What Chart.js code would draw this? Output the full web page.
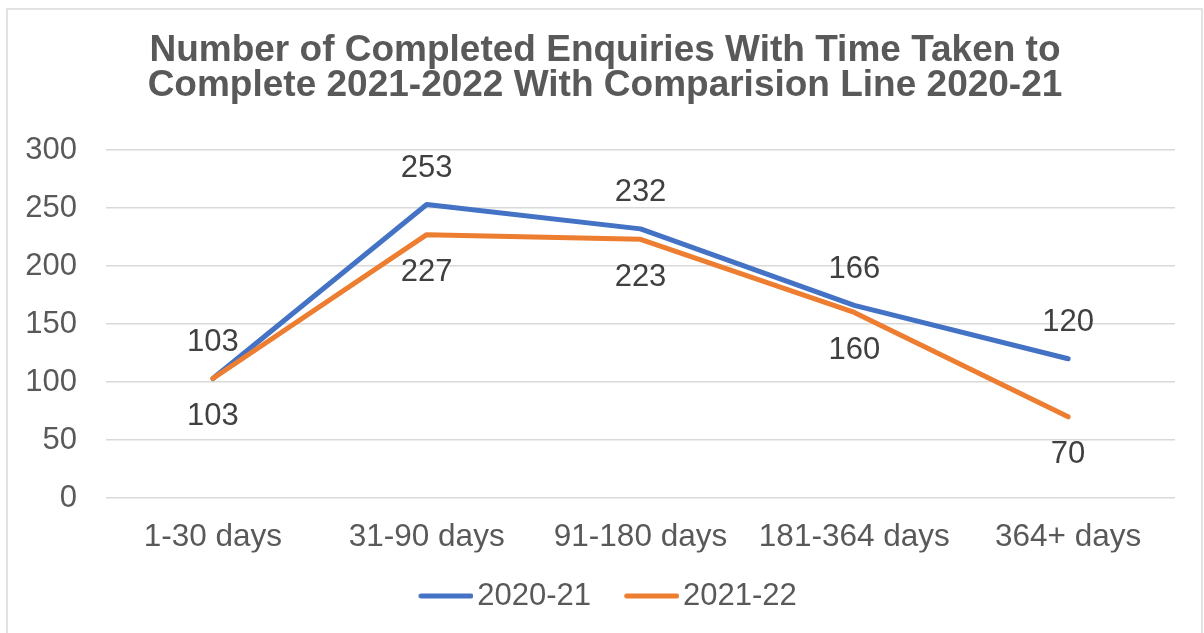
<!DOCTYPE html>
<html>
<head>
<meta charset="utf-8">
<script src="https://cdn.jsdelivr.net/npm/chart.js@4.4.1/dist/chart.umd.min.js"></script>
<style>
  html, body { margin: 0; padding: 0; background: #ffffff; }
  #wrap { position: relative; width: 1204px; height: 633px; }
</style>
</head>
<body>
<div id="wrap"><canvas id="c" width="1204" height="633"></canvas></div>
<script>
// ---- data ----
const categories = ['1-30 days', '31-90 days', '91-180 days', '181-364 days', '364+ days'];
const series2020 = [103, 253, 232, 166, 120];
const series2021 = [103, 227, 223, 160, 70];
const seriesNames = ['2020-21', '2021-22'];
const yTicks = [0, 50, 100, 150, 200, 250, 300];
const titleLines = ['Number of Completed Enquiries With Time Taken to', 'Complete 2021-2022 With Comparision Line 2020-21'];

const BLUE = '#4472C4';
const ORANGE = '#ED7D31';
const FONT = '"Liberation Sans", Arial, sans-serif';

// legend line images
const PSW = 48.5;
function legendLine(color) {
  const W = Math.round(PSW + 23);
  const cv = document.createElement('canvas');
  cv.width = W; cv.height = 10;
  const g = cv.getContext('2d');
  g.strokeStyle = color; g.lineWidth = 5; g.lineCap = 'round';
  g.beginPath(); g.moveTo(W - 55 + 2.5, 5); g.lineTo(W - 2.5, 5); g.stroke();
  return cv;
}
const legendImgs = [legendLine(BLUE), legendLine(ORANGE)];

const borderPlugin = {
  id: 'outerBorder',
  beforeDraw(chart) {
    const ctx = chart.ctx;
    ctx.save();
    ctx.fillStyle = '#ffffff';
    ctx.fillRect(0, 0, chart.width, chart.height);
    ctx.strokeStyle = '#d9d9d9';
    ctx.lineWidth = 1.5;
    ctx.strokeRect(7, 9, 1195, 700);
    ctx.restore();
  }
};

// let the y tick labels extend left of the y-scale box without being clipped
const yClipPlugin = {
  id: 'yClip',
  afterLayout(chart) {
    const y = chart.scales.y;
    if (y) { const r = y.right; y.left = 0; y.width = r; }
  }
};

const labelPlugin = {
  id: 'valueLabels',
  afterDatasetsDraw(chart) {
    const ctx = chart.ctx;
    ctx.save();
    ctx.font = '31px ' + FONT;
    ctx.fillStyle = '#404040';
    ctx.textAlign = 'center';
    ctx.textBaseline = 'middle';
    chart.data.datasets.forEach((ds, di) => {
      const meta = chart.getDatasetMeta(di);
      const off = di === 0 ? -36 : 38;
      meta.data.forEach((pt, i) => {
        ctx.fillText(String(ds.data[i]), pt.x, pt.y + off);
      });
    });
    ctx.restore();
  }
};

new Chart(document.getElementById('c'), {
  type: 'line',
  data: {
    labels: categories,
    datasets: [
      { label: seriesNames[0], data: series2020, borderColor: BLUE, backgroundColor: BLUE,
        borderWidth: 5, pointRadius: 0, tension: 0, order: 1,
        borderJoinStyle: 'round', borderCapStyle: 'round' },
      { label: seriesNames[1], data: series2021, borderColor: ORANGE, backgroundColor: ORANGE,
        borderWidth: 5, pointRadius: 0, tension: 0, order: 0,
        borderJoinStyle: 'round', borderCapStyle: 'round' }
    ]
  },
  options: {
    responsive: false,
    animation: false,
    devicePixelRatio: 1,
    layout: { padding: { left: 35, right: 29, top: 0, bottom: 11.5 } },
    plugins: {
      tooltip: { enabled: false },
      title: {
        display: true,
        text: titleLines,
        color: '#595959',
        font: { family: FONT, size: 37, weight: 'bold', lineHeight: 35 / 37 },
        padding: { top: 33, bottom: 47 }
      },
      legend: {
        display: true,
        position: 'bottom',
        labels: {
          usePointStyle: true,
          pointStyleWidth: PSW,
          padding: 28,
          color: '#595959',
          font: { family: FONT, size: 31 },
          sort: (a, b) => a.datasetIndex - b.datasetIndex,
          generateLabels(chart) {
            const items = Chart.defaults.plugins.legend.labels.generateLabels(chart);
            items.forEach(it => { it.pointStyle = legendImgs[it.datasetIndex]; it.lineWidth = 0; });
            return items;
          }
        }
      }
    },
    scales: {
      x: {
        offset: true,
        grid: { display: false, drawTicks: false, offset: true },
        border: { display: false },
        ticks: { color: '#595959', font: { family: FONT, size: 31.5 }, padding: 20, maxRotation: 0, autoSkip: false },
        afterFit(scale) { scale.height = 54.5; }
      },
      y: {
        min: 0, max: 300,
        afterBuildTicks(scale) { scale.ticks = yTicks.map(v => ({ value: v })); },
        grid: { color: '#d9d9d9', lineWidth: 1.5, drawTicks: false },
        border: { display: false },
        ticks: { color: '#595959', font: { family: FONT, size: 31 }, padding: 29 },
        afterFit(scale) { scale.width = 71; }
      }
    }
  },
  plugins: [borderPlugin, yClipPlugin, labelPlugin]
});
</script>
</body>
</html>
